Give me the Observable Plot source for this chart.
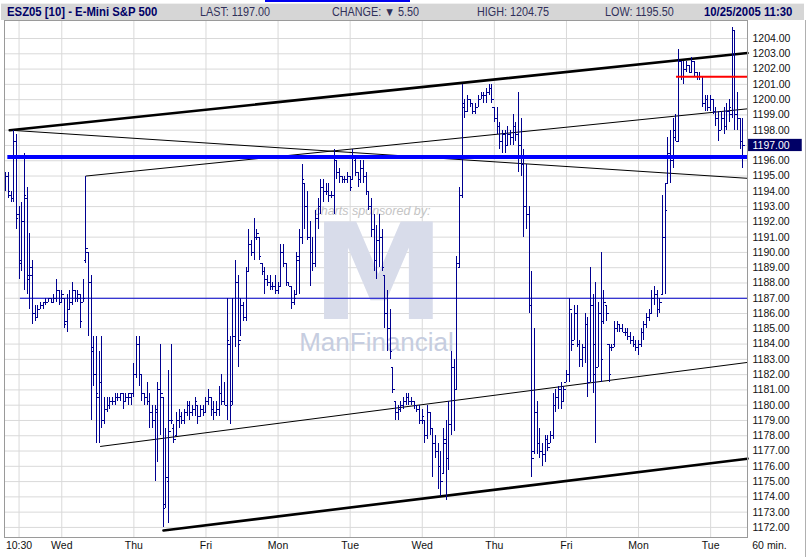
<!DOCTYPE html>
<html>
<head>
<meta charset="utf-8">
<script src="https://cdn.jsdelivr.net/npm/d3@7"></script>
<script src="https://cdn.jsdelivr.net/npm/@observablehq/plot@0.6"></script>
<style>
  body { margin: 0; background: #fff; }
  #wrap { position: relative; width: 807px; height: 557px; overflow: hidden; font-family: "Liberation Sans", Arial, sans-serif; }
  #link { position: absolute; left: 265px; top: 0; width: 145px; height: 2px; background: #0000ee; }
  #hdr { position: absolute; left: 1px; top: 3px; width: 803px; height: 16px; background: #d6d6d6; border-top: 1px solid #f0f0f0; border-bottom: 1px solid #9a9a9a; color: #000066; }
  #hdr span { position: absolute; top: 0; line-height: 16px; white-space: nowrap; transform-origin: left center; }
  #hdr .b { font-weight: bold; font-size: 13.5px; transform: scaleX(0.84); }
  #hdr .r { font-size: 12px; color: #30305a; transform: scaleX(0.9); }
  #chart { position: absolute; left: 0; top: 20px; }
  #edge { position: absolute; left: 805px; top: 20px; width: 1px; height: 537px; background: #b0b0b0; }
</style>
</head>
<body>
<div id="wrap">
  <div id="link"></div>
  <div id="hdr">
    <span class="b" style="left:6px">ESZ05 [10] - E-Mini S&amp;P 500</span>
    <span class="r" style="left:199px">LAST: 1197.00</span>
    <span class="r" style="left:331px">CHANGE: &#9660; 5.50</span>
    <span class="r" style="left:476px">HIGH: 1204.75</span>
    <span class="r" style="left:604px">LOW: 1195.50</span>
    <span class="b" style="left:703px">10/25/2005 11:30</span>
  </div>
  <div id="chart"></div>
  <div id="edge"></div>
</div>
<script>
// bar index where each session starts, and the labels under them
const tickIdx = [5, 21, 48, 75, 102, 129, 156, 183, 210, 237, 264];
const tickLabels = ["10:30", "Wed", "Thu", "Fri", "Mon", "Tue", "Wed", "Thu", "Fri", "Mon", "Tue"];
const yTicks = d3.range(1172, 1205);
const last = 1197.0;

// one line per session
const highs = [
  1195.25,1195.25,1194.0,1198.0,1197.75,1193.0,1193.25,1196.5,1194.25,1191.25,1189.5,1186.5,1186.5,1186.75,1186.75,1187.0,1187.0,1187.0,1187.25,1188.25,1187.5,
  1187.5,1187.0,1187.25,1187.5,1188.0,1187.5,1187.5,1187.25,1188.25,1195.0,1190.0,1188.5,1184.5,1184.5,1183.5,1184.5,1180.5,1180.5,1180.5,1180.5,1180.75,1180.75,1180.75,1180.75,1180.75,1180.75,1180.75,
  1182.75,1184.5,1184.5,1182.0,1180.75,1181.5,1180.75,1180.0,1180.0,1181.5,1184.0,1180.5,1178.5,1182.25,1184.0,1178.75,1179.5,1179.75,1179.5,1179.75,1180.25,1180.25,1180.0,1180.5,1180.0,1180.0,1180.0,
  1180.5,1181.0,1180.5,1180.25,1180.25,1181.25,1182.0,1181.5,1187.0,1184.5,1187.0,1189.5,1188.5,1187.0,1186.75,1189.0,1191.5,1190.75,1192.25,1191.5,1191.0,1189.25,1189.0,1188.5,1188.5,1188.0,1188.5,
  1188.0,1190.5,1190.5,1189.25,1188.0,1187.75,1187.5,1190.0,1191.5,1195.75,1194.5,1194.0,1192.0,1191.0,1192.75,1193.5,1194.75,1194.75,1194.5,1194.5,1194.0,1196.75,1196.0,1195.5,1195.0,1195.0,1195.25,
  1195.0,1196.75,1196.25,1195.25,1196.0,1196.0,1195.25,1194.0,1193.5,1192.5,1191.75,1192.5,1191.5,1188.5,1187.5,1186.25,1182.5,1180.25,1180.0,1180.25,1180.5,1180.75,1180.75,1180.5,1180.25,1180.0,1180.0,
  1179.75,1179.0,1180.0,1179.5,1178.5,1178.0,1177.5,1177.0,1178.5,1179.0,1180.25,1183.5,1183.0,1189.75,1194.25,1201.0,1200.0,1200.25,1200.0,1199.75,1199.75,1200.25,1200.5,1200.5,1200.75,1201.0,1201.0,
  1199.5,1199.5,1198.5,1198.0,1198.0,1198.25,1198.0,1199.0,1198.5,1200.5,1198.75,1196.75,1195.75,1193.0,1188.75,1185.0,1180.25,1178.5,1177.5,1178.0,1178.0,1178.25,1180.75,1181.0,1181.25,1181.5,1181.25,
  1182.25,1187.0,1186.0,1186.5,1186.5,1184.25,1184.0,1186.0,1185.75,1189.0,1187.25,1188.0,1186.75,1190.0,1187.5,1186.5,1184.0,1184.0,1185.5,1185.5,1185.25,1185.25,1185.0,1185.0,1184.75,1184.5,1184.25,
  1184.25,1185.0,1185.5,1186.0,1186.25,1187.5,1187.75,1187.5,1187.0,1193.75,1194.5,1197.5,1198.0,1198.75,1199.0,1203.25,1202.5,1202.5,1202.5,1202.25,1202.75,1202.5,1201.75,1201.75,1201.5,1200.25,1200.25,
  1200.25,1200.0,1199.5,1199.25,1199.25,1199.5,1199.75,1200.0,1204.75,1204.5,1200.5,1198.75,1198.75
];
const lows = [
  1194.0,1193.5,1193.25,1193.25,1191.5,1188.25,1188.75,1187.5,1187.25,1186.25,1185.25,1185.5,1185.75,1186.25,1186.25,1186.5,1186.75,1186.75,1186.75,1186.75,1186.5,
  1186.75,1185.0,1184.75,1186.25,1186.5,1186.75,1186.75,1185.0,1186.75,1189.25,1184.5,1179.0,1181.25,1177.5,1177.5,1178.5,1178.75,1179.5,1179.75,1180.0,1180.0,1180.25,1180.25,1179.75,1180.25,1180.0,1180.0,
  1180.5,1181.75,1181.25,1180.25,1180.0,1180.0,1178.5,1178.5,1175.0,1176.25,1178.0,1172.0,1173.25,1172.25,1178.75,1177.5,1178.0,1178.5,1178.75,1178.75,1179.25,1179.0,1179.25,1179.25,1178.75,1179.25,1179.25,
  1179.5,1180.0,1179.25,1179.0,1179.25,1179.25,1180.0,1180.0,1179.0,1178.75,1180.0,1183.75,1182.5,1184.5,1185.5,1185.5,1188.75,1189.75,1189.5,1190.75,1189.5,1188.5,1187.25,1187.75,1187.5,1187.5,1187.25,
  1187.25,1187.75,1189.0,1187.75,1187.75,1186.25,1186.5,1187.25,1187.25,1190.5,1191.5,1190.75,1187.75,1188.75,1189.0,1191.5,1192.5,1193.25,1193.75,1193.25,1193.5,1192.5,1194.75,1194.5,1194.5,1194.5,1194.5,
  1194.0,1194.75,1195.0,1194.25,1194.5,1194.5,1193.75,1192.75,1191.0,1188.75,1188.25,1189.0,1188.75,1185.0,1183.5,1183.0,1180.75,1179.0,1179.0,1179.5,1179.75,1180.0,1180.0,1180.0,1179.75,1179.5,1178.75,
  1178.75,1177.5,1177.75,1178.0,1175.25,1176.5,1174.5,1174.0,1175.5,1173.75,1175.75,1178.0,1178.25,1181.0,1189.0,1193.5,1198.75,1199.25,1199.5,1199.0,1199.0,1199.5,1200.0,1199.75,1199.75,1200.25,1199.75,
  1198.5,1197.75,1196.75,1196.5,1196.5,1197.0,1197.0,1197.0,1197.25,1195.25,1195.0,1191.0,1191.5,1186.0,1175.25,1176.75,1176.75,1176.5,1176.0,1176.25,1177.0,1177.5,1177.75,1179.5,1179.75,1179.75,1180.25,
  1181.5,1181.5,1183.5,1184.25,1183.75,1182.5,1182.5,1182.75,1180.5,1181.5,1180.75,1177.5,1182.5,1181.5,1185.25,1185.5,1181.5,1183.5,1183.75,1184.75,1184.75,1184.75,1184.5,1184.25,1184.0,1183.75,1183.5,
  1183.25,1183.75,1184.25,1185.0,1185.5,1186.0,1186.5,1185.75,1186.0,1187.25,1187.25,1194.5,1194.5,1195.5,1197.25,1197.25,1201.25,1201.0,1201.75,1201.75,1201.75,1201.5,1201.25,1201.25,1199.5,1199.25,1199.25,
  1199.25,1199.0,1198.25,1197.25,1198.0,1197.75,1198.0,1198.5,1198.75,1198.0,1198.0,1196.75,1195.5
];
const opens = [
  1194.75,1195.0,1193.75,1193.5,1197.25,1192.5,1189.5,1192.0,1193.5,1188.5,1189.0,1186.0,1185.75,1186.25,1186.5,1186.75,1186.75,1187.0,1186.75,1187.0,1187.5,
  1186.75,1187.0,1185.5,1186.25,1186.75,1187.5,1187.0,1187.0,1186.75,1189.5,1190.0,1188.0,1183.75,1182.0,1180.5,1181.5,1179.0,1179.75,1180.0,1180.25,1180.25,1180.5,1180.5,1180.75,1180.25,1180.5,1180.5,
  1180.75,1182.0,1184.0,1182.0,1180.75,1180.5,1180.25,1179.5,1179.0,1179.5,1181.0,1180.5,1173.5,1175.0,1179.0,1178.5,1178.0,1179.0,1179.25,1179.0,1179.5,1180.0,1179.5,1179.75,1180.0,1179.25,1179.75,
  1179.5,1180.25,1180.5,1179.75,1179.5,1179.75,1180.75,1180.25,1180.0,1184.0,1180.25,1184.5,1188.0,1184.25,1186.5,1185.75,1188.75,1190.5,1190.0,1191.0,1191.0,1189.25,1188.75,1188.25,1188.0,1187.75,1187.75,
  1187.5,1187.75,1190.0,1189.25,1188.0,1187.75,1186.75,1187.25,1189.5,1191.0,1194.5,1193.0,1191.0,1190.0,1189.25,1192.25,1193.0,1194.25,1194.0,1194.0,1193.75,1193.75,1196.0,1195.25,1195.0,1194.75,1194.75,
  1195.0,1194.75,1196.0,1195.25,1194.75,1195.5,1195.0,1194.0,1193.0,1191.5,1189.5,1190.75,1191.0,1188.5,1186.0,1185.0,1182.5,1180.25,1179.5,1179.75,1180.0,1180.25,1180.5,1180.25,1180.25,1180.0,1179.75,
  1179.0,1179.0,1178.0,1179.5,1178.5,1177.5,1177.0,1176.0,1175.5,1177.5,1176.5,1178.75,1182.5,1181.0,1189.0,1193.75,1199.5,1199.25,1200.0,1199.75,1199.25,1199.5,1200.0,1200.25,1200.25,1200.5,1200.75,
  1199.5,1198.75,1198.25,1197.25,1197.75,1197.0,1197.75,1197.5,1198.25,1197.75,1197.0,1195.75,1193.0,1192.5,1186.5,1177.0,1179.5,1177.5,1177.0,1176.75,1177.75,1177.5,1178.0,1180.0,1180.5,1181.0,1180.25,
  1181.5,1182.0,1186.25,1184.25,1186.0,1184.0,1183.0,1183.75,1185.25,1181.5,1186.5,1184.0,1182.5,1186.0,1185.5,1186.5,1184.0,1183.75,1184.0,1185.0,1185.25,1185.0,1184.75,1184.75,1184.5,1184.25,1184.0,
  1183.75,1184.0,1184.75,1185.25,1185.75,1186.0,1187.0,1187.25,1186.25,1187.25,1191.0,1194.5,1196.5,1196.0,1197.5,1197.25,1202.5,1201.5,1202.0,1202.25,1201.75,1202.5,1201.75,1201.5,1201.5,1199.75,1200.0,
  1199.5,1200.0,1199.25,1198.75,1198.0,1198.75,1198.25,1199.25,1199.0,1204.5,1199.0,1198.75,1197.25
];
const closes = [
  1195.0,1194.0,1193.5,1197.25,1192.25,1189.25,1192.0,1193.75,1188.25,1188.5,1186.0,1185.75,1186.25,1186.5,1186.75,1186.75,1187.0,1186.75,1187.0,1187.5,1186.75,
  1187.25,1185.25,1186.25,1186.75,1187.5,1187.0,1187.25,1185.5,1187.0,1190.25,1188.0,1183.5,1182.0,1180.75,1181.5,1179.0,1179.75,1180.0,1180.25,1180.25,1180.5,1180.5,1180.75,1180.25,1180.5,1180.75,1180.75,
  1182.0,1184.0,1182.0,1180.75,1180.5,1180.25,1179.5,1179.0,1179.75,1181.0,1180.75,1173.25,1175.25,1178.25,1179.0,1177.75,1179.0,1179.25,1179.0,1179.5,1180.0,1179.5,1179.75,1180.25,1179.25,1179.75,1179.5,
  1180.25,1180.5,1179.75,1179.5,1179.75,1180.75,1180.25,1180.0,1184.25,1180.0,1184.5,1188.0,1184.0,1186.5,1185.75,1188.75,1190.5,1190.0,1191.0,1191.25,1189.75,1188.75,1188.25,1188.0,1187.75,1187.75,1187.5,
  1187.75,1190.0,1189.25,1188.0,1187.75,1186.75,1187.0,1189.75,1191.0,1194.75,1193.0,1191.0,1190.0,1189.25,1192.25,1193.0,1194.25,1194.0,1194.0,1193.75,1193.75,1196.0,1195.25,1195.0,1194.75,1194.75,1195.0,
  1194.25,1196.25,1195.25,1194.75,1195.5,1195.0,1194.0,1193.0,1191.5,1189.5,1190.75,1191.0,1189.0,1186.0,1185.0,1183.5,1181.0,1179.5,1179.75,1180.0,1180.25,1180.5,1180.25,1180.25,1180.0,1179.75,1179.0,
  1179.25,1178.0,1179.5,1178.5,1177.5,1177.0,1176.0,1175.0,1177.75,1176.5,1178.75,1182.5,1181.0,1189.25,1193.75,1199.75,1199.25,1200.0,1199.75,1199.25,1199.5,1200.0,1200.25,1200.25,1200.5,1200.75,1200.0,
  1198.75,1198.25,1197.25,1197.75,1197.0,1197.75,1197.5,1198.25,1197.75,1197.0,1195.75,1193.0,1192.5,1186.5,1176.5,1179.5,1177.5,1177.0,1176.75,1177.75,1177.25,1178.0,1180.0,1180.5,1181.0,1180.25,1181.0,
  1182.0,1186.25,1184.0,1186.0,1184.0,1183.0,1183.75,1185.25,1181.5,1186.5,1182.0,1182.5,1186.0,1183.0,1186.75,1186.0,1182.0,1183.75,1185.0,1185.25,1185.0,1184.75,1184.75,1184.5,1184.25,1184.0,1183.75,
  1184.0,1184.75,1185.25,1185.75,1186.0,1187.0,1187.25,1186.25,1186.75,1191.0,1192.75,1196.5,1196.0,1198.0,1197.25,1202.5,1201.5,1202.0,1202.25,1201.75,1202.5,1201.75,1201.5,1201.5,1199.75,1200.0,1199.5,
  1200.0,1199.25,1198.75,1198.0,1198.75,1198.25,1199.25,1199.5,1204.5,1199.0,1198.75,1197.25,1197.0
];

// drawn studies: [bar index, price] end points
const upperChannel = [[1.5, 1198.0], [277.8, 1203.05]];
const upperFan = [[1.5, 1198.0], [277.8, 1194.85]];
const midRise = [[30.1, 1195.0], [277.8, 1199.4]];
const lowerMid = [[35.5, 1177.3], [277.8, 1182.8]];
const lowerChannel = [[59.1, 1171.8], [277.8, 1176.5]];
const blueLevel = [1196.25, 0.8];
const thinLevel = [1187.0, 5.5];
const redLevel = [1201.5, 251.2];

const xMax = 277.8;
const bars = highs.map((h, i) => ({i, high: h, low: lows[i], open: opens[i], close: closes[i]}));
const pts = a => a.map(([i, p]) => ({i, p}));
const navy = "#000090";

const chart = Plot.plot({
  width: 807,
  height: 537,
  marginTop: 0,
  marginBottom: 20,
  marginLeft: 4,
  marginRight: 60,
  x: {domain: [-0.45, xMax], axis: null},
  y: {domain: [1171.34, 1205.18], axis: null},
  style: {fontFamily: "'Liberation Sans', Arial, sans-serif", fontSize: "10.5px", background: "#fff", color: "#111"},
  marks: [
    Plot.ruleY(yTicks, {stroke: "#d9d9d9"}),
    Plot.ruleX(tickIdx, {stroke: "#d9d9d9"}),
    // sponsor watermark
    Plot.text(["charts sponsored by:"], {frameAnchor: "top-left", dx: 368, dy: 194, textAnchor: "middle", lineAnchor: "bottom", fill: "#c4c4c4", fontSize: 12.5, fontStyle: "italic"}),
    Plot.text(["M"], {frameAnchor: "top-left", dx: 374, dy: 256, textAnchor: "middle", lineAnchor: "middle", fill: "#d8dcea", fontSize: 134, fontWeight: "bold", fontFamily: "DejaVu Sans"}),
    Plot.text(["ManFinancial"], {frameAnchor: "top-left", dx: 372, dy: 322, textAnchor: "middle", lineAnchor: "middle", fill: "#c6cde0", fontSize: 26}),
    Plot.line(pts(upperFan), {x: "i", y: "p", stroke: "#000", strokeWidth: 1}),
    Plot.line(pts(midRise), {x: "i", y: "p", stroke: "#000", strokeWidth: 1}),
    Plot.line(pts(lowerMid), {x: "i", y: "p", stroke: "#000", strokeWidth: 1}),
    Plot.line(pts(upperChannel), {x: "i", y: "p", stroke: "#000", strokeWidth: 2.6}),
    Plot.line(pts(lowerChannel), {x: "i", y: "p", stroke: "#000", strokeWidth: 2.6}),
    Plot.ruleY([thinLevel], {y: d => d[0], x1: d => d[1], x2: xMax, stroke: "#0000cc", strokeWidth: 1}),
    // OHLC bars
    Plot.ruleX(bars, {x: "i", y1: "low", y2: "high", stroke: navy, strokeWidth: 1, shapeRendering: "crispEdges"}),
    Plot.link(bars, {x1: d => d.i - 0.75, x2: "i", y1: "open", y2: "open", stroke: navy, strokeWidth: 1, shapeRendering: "crispEdges"}),
    Plot.link(bars, {x1: "i", x2: d => d.i + 0.75, y1: "close", y2: "close", stroke: navy, strokeWidth: 1, shapeRendering: "crispEdges"}),
    Plot.ruleY([blueLevel], {y: d => d[0], x1: d => d[1], x2: xMax, stroke: "#0000ff", strokeWidth: 4}),
    Plot.ruleY([redLevel], {y: d => d[0], x1: d => d[1], x2: xMax, stroke: "#ff0000", strokeWidth: 2}),
    Plot.frame({stroke: "#9a9a9a"}),
    // price scale on the right
    Plot.text(yTicks.filter(v => v !== last), {y: d => d, text: d => d.toFixed(2), frameAnchor: "right", dx: 5, textAnchor: "start", fill: "#111"}),
    Plot.rect([last], {x1: xMax + 0.4, x2: xMax + 20.5, y1: d => d - 0.4, y2: d => d + 0.4, fill: "#000066"}),
    Plot.text([last], {y: d => d, text: d => d.toFixed(2), frameAnchor: "right", dx: 5, textAnchor: "start", fill: "#fff"}),
    // time labels
    Plot.text(tickIdx, {x: d => d, text: (d, i) => tickLabels[i], frameAnchor: "bottom", dy: 11, fill: "#111", letterSpacing: "0.5px"}),
    Plot.text(["60 min."], {frameAnchor: "bottom-right", dx: 22, dy: 11, textAnchor: "middle", fill: "#111", letterSpacing: "0.5px"})
  ]
});

d3.select("#chart").append(() => chart);
</script>
</body>
</html>
